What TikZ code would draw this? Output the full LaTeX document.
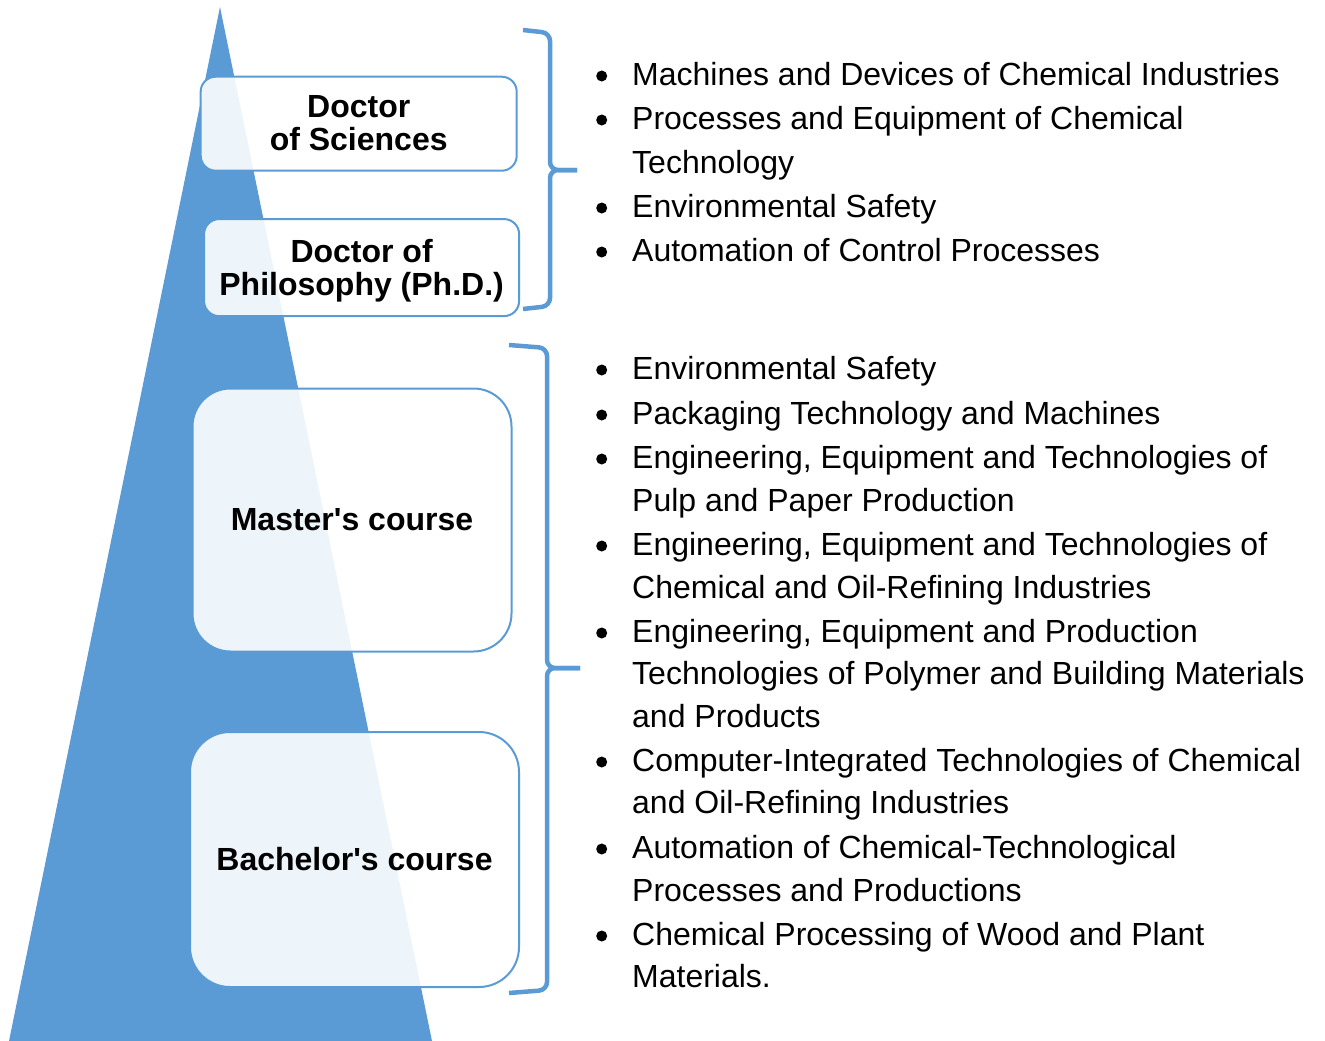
\documentclass[tikz,border=0pt]{standalone}
\usepackage{fontspec}
\setmainfont{Liberation Sans}
\definecolor{tri}{HTML}{5B9BD5}
\begin{document}
\begin{tikzpicture}[x=1pt,y=-1pt,
  lvl/.style={draw=tri, line width=2pt, fill=white, fill opacity=0.9, text opacity=1,
    align=center, font=\fontsize{32}{33}\selectfont\bfseries, inner sep=0pt},
  brace/.style={draw=tri, line width=4.5pt, rounded corners=8pt},
  itemline/.style={anchor=base west, inner sep=0pt, font=\fontsize{32}{38}\selectfont},
  bul/.style={circle, fill=black, inner sep=0pt, minimum size=11pt}]
\useasboundingbox (0,0) rectangle (1325,1041);
% pyramid
\fill[tri] (220,7) -- (432,1041) -- (9,1041) -- cycle;
% level boxes
\node[lvl, rounded corners=15pt, minimum width=316pt, minimum height=94pt] (dsc) at (358.7,123.7) {Doctor\\of Sciences\rule[-2pt]{0pt}{0pt}};
\node[lvl, rounded corners=15pt, minimum width=315pt, minimum height=97pt] (phd) at (361.6,267.6) {\rule{0pt}{29pt}Doctor of\\Philosophy (Ph.D.)};
\node[lvl, rounded corners=38pt, minimum width=319pt, minimum height=263pt] (mst) at (352,520) {Master\textquotesingle s course};
\node[lvl, rounded corners=40pt, minimum width=329pt, minimum height=255pt] (bch) at (354.5,859.5) {Bachelor\textquotesingle s course};
% braces
\coordinate (b1t) at (523,30);
\coordinate (b1m) at (577,170);
\coordinate (b1b) at (523,309);
\draw[brace] (b1t) -- (550,33) -- (550,170) -- (b1m);
\draw[brace] (b1m) -- (550,170) -- (550,306) -- (b1b);
\coordinate (b2t) at (509,345);
\coordinate (b2m) at (580,668);
\coordinate (b2b) at (509,993);
\draw[brace] (b2t) -- (547,348) -- (547,668) -- (b2m);
\draw[brace] (b2m) -- (547,668) -- (547,990) -- (b2b);
% first list
\node[bul] (u1) at (601.7,76) {};
\node[itemline] (t1) at (632,85) {Machines and Devices of Chemical Industries};
\node[bul] (u2) at (601.7,120) {};
\node[itemline] (t2) at (632,129) {Processes and Equipment of Chemical};
\node[itemline] (t2b) at (632,173) {Technology};
\node[bul] (u3) at (601.7,208) {};
\node[itemline] (t3) at (632,217) {Environmental Safety};
\node[bul] (u4) at (601.7,252) {};
\node[itemline] (t4) at (632,261) {Automation of Control Processes};
% second list
\node[bul] (v1) at (601.7,370) {};
\node[itemline] (s1) at (632,379) {Environmental Safety};
\node[bul] (v2) at (601.7,415) {};
\node[itemline] (s2) at (632,424) {Packaging Technology and Machines};
\node[bul] (v3) at (601.7,459) {};
\node[itemline] (s3) at (632,468) {Engineering, Equipment and Technologies of};
\node[itemline] (s3b) at (632,511) {Pulp and Paper Production};
\node[bul] (v4) at (601.7,546) {};
\node[itemline] (s4) at (632,555) {Engineering, Equipment and Technologies of};
\node[itemline] (s4b) at (632,598) {Chemical and Oil-Refining Industries};
\node[bul] (v5) at (601.7,633) {};
\node[itemline] (s5) at (632,642) {Engineering, Equipment and Production};
\node[itemline] (s5b) at (632,684) {Technologies of Polymer and Building Materials};
\node[itemline] (s5c) at (632,727) {and Products};
\node[bul] (v6) at (601.7,762) {};
\node[itemline] (s6) at (632,771) {Computer-Integrated Technologies of Chemical};
\node[itemline] (s6b) at (632,813) {and Oil-Refining Industries};
\node[bul] (v7) at (601.7,849) {};
\node[itemline] (s7) at (632,858) {Automation of Chemical-Technological};
\node[itemline] (s7b) at (632,901) {Processes and Productions};
\node[bul] (v8) at (601.7,936) {};
\node[itemline] (s8) at (632,945) {Chemical Processing of Wood and Plant};
\node[itemline] (s8b) at (632,987) {Materials.};
\end{tikzpicture}
\end{document}
